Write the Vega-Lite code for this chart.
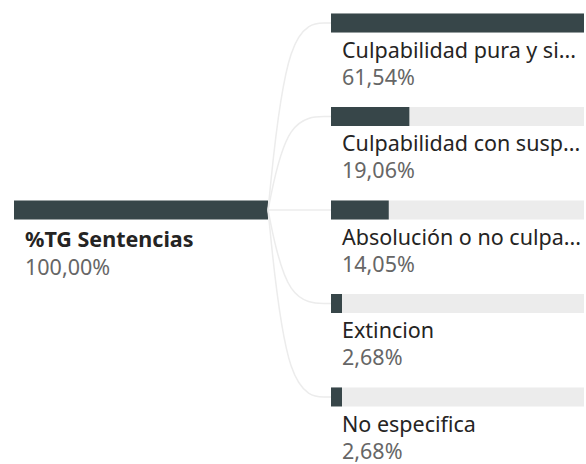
{
  "$schema": "https://vega.github.io/schema/vega-lite/v6.json",
  "autosize": {"type": "pad"},
  "bounds": "flush",
  "padding": {"left": 14, "right": 2, "top": 0, "bottom": 0},
  "spacing": 0,
  "config": {
    "view": {"stroke": null},
    "font": "Noto Sans",
    "locale": {"number": {"decimal": ",", "thousands": ".", "grouping": [3], "currency": ["", " €"]}}
  },
  "datasets": {
    "raiz": [{"nodo": "%TG Sentencias", "proporcion": 1.0, "orden": 3}],
    "hijos": [
      {"nodo": "Culpabilidad pura y si...", "proporcion": 0.6154, "orden": 1},
      {"nodo": "Culpabilidad con susp...", "proporcion": 0.1906, "orden": 2},
      {"nodo": "Absolución o no culpa...", "proporcion": 0.1405, "orden": 3},
      {"nodo": "Extincion", "proporcion": 0.0268, "orden": 4},
      {"nodo": "No especifica", "proporcion": 0.0268, "orden": 5}
    ],
    "conectores": [
      {"destino": "Culpabilidad pura y si...", "paso": 0, "tramo": 0, "orden": 3},
      {"destino": "Culpabilidad pura y si...", "paso": 1, "tramo": 0.3, "orden": 1},
      {"destino": "Culpabilidad pura y si...", "paso": 2, "tramo": 1, "orden": 1},
      {"destino": "Culpabilidad con susp...", "paso": 0, "tramo": 0, "orden": 3},
      {"destino": "Culpabilidad con susp...", "paso": 1, "tramo": 0.3, "orden": 2},
      {"destino": "Culpabilidad con susp...", "paso": 2, "tramo": 1, "orden": 2},
      {"destino": "Absolución o no culpa...", "paso": 0, "tramo": 0, "orden": 3},
      {"destino": "Absolución o no culpa...", "paso": 2, "tramo": 1, "orden": 3},
      {"destino": "Extincion", "paso": 0, "tramo": 0, "orden": 3},
      {"destino": "Extincion", "paso": 1, "tramo": 0.3, "orden": 4},
      {"destino": "Extincion", "paso": 2, "tramo": 1, "orden": 4},
      {"destino": "No especifica", "paso": 0, "tramo": 0, "orden": 3},
      {"destino": "No especifica", "paso": 1, "tramo": 0.3, "orden": 5},
      {"destino": "No especifica", "paso": 2, "tramo": 1, "orden": 5}
    ]
  },
  "hconcat": [
    {
      "width": 254,
      "height": 464,
      "data": {"name": "raiz"},
      "encoding": {
        "y": {"field": "orden", "type": "quantitative", "scale": {"domain": [0.754, 5.717], "reverse": true, "nice": false, "zero": false, "padding": 0}, "axis": null}
      },
      "layer": [
        {
          "mark": {"type": "bar", "orient": "horizontal", "size": 19, "color": "#374649"},
          "encoding": {
            "x": {"field": "proporcion", "type": "quantitative", "scale": {"domain": [0, 1], "nice": false}, "axis": null},
            "x2": {"datum": 0}
          }
        },
        {
          "mark": {"type": "text", "align": "left", "baseline": "alphabetic", "dx": 11, "dy": 37, "fontSize": 21.5, "fontWeight": "bold", "color": "#252423"},
          "encoding": {"x": {"datum": 0, "type": "quantitative"}, "text": {"field": "nodo"}}
        },
        {
          "mark": {"type": "text", "align": "left", "baseline": "alphabetic", "dx": 11, "dy": 65, "fontSize": 21.5, "color": "#666666"},
          "encoding": {"x": {"datum": 0, "type": "quantitative"}, "text": {"field": "proporcion", "type": "quantitative", "format": ".2%"}}
        }
      ]
    },
    {
      "width": 63,
      "height": 464,
      "data": {"name": "conectores"},
      "mark": {"type": "line", "interpolate": "basis", "color": "#ececec", "strokeWidth": 1.5},
      "encoding": {
        "x": {"field": "tramo", "type": "quantitative", "scale": {"domain": [0, 1], "nice": false}, "axis": null},
        "y": {"field": "orden", "type": "quantitative", "scale": {"domain": [0.754, 5.717], "reverse": true, "nice": false, "zero": false, "padding": 0}, "axis": null},
        "detail": {"field": "destino"},
        "order": {"field": "paso", "type": "quantitative"}
      }
    },
    {
      "width": 253,
      "height": 464,
      "data": {"name": "hijos"},
      "transform": [{"joinaggregate": [{"op": "max", "field": "proporcion", "as": "maximo"}]}],
      "encoding": {
        "y": {"field": "orden", "type": "quantitative", "scale": {"domain": [0.754, 5.717], "reverse": true, "nice": false, "zero": false, "padding": 0}, "axis": null}
      },
      "layer": [
        {
          "mark": {"type": "bar", "orient": "horizontal", "size": 19, "color": "#ececec"},
          "encoding": {
            "x": {"field": "maximo", "type": "quantitative", "scale": {"nice": false, "zero": true}, "axis": null},
            "x2": {"datum": 0}
          }
        },
        {
          "mark": {"type": "bar", "orient": "horizontal", "size": 19, "color": "#374649"},
          "encoding": {
            "x": {"field": "proporcion", "type": "quantitative"},
            "x2": {"datum": 0}
          }
        },
        {
          "mark": {"type": "text", "align": "left", "baseline": "alphabetic", "dx": 11, "dy": 35, "fontSize": 21.5, "color": "#252423"},
          "encoding": {"x": {"datum": 0, "type": "quantitative"}, "text": {"field": "nodo"}}
        },
        {
          "mark": {"type": "text", "align": "left", "baseline": "alphabetic", "dx": 11, "dy": 62, "fontSize": 21.5, "color": "#666666"},
          "encoding": {"x": {"datum": 0, "type": "quantitative"}, "text": {"field": "proporcion", "type": "quantitative", "format": ".2%"}}
        }
      ]
    }
  ]
}
